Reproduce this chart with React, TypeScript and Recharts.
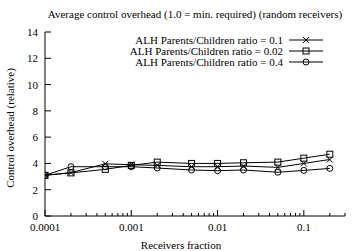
import { Line, LineChart, XAxis, YAxis } from "recharts";

const receiversFraction = [0.0001, 0.0002, 0.0005, 0.001, 0.002, 0.005, 0.01, 0.02, 0.05, 0.1, 0.2];
const ratio01 = [3.1, 3.3, 3.97, 3.9, 3.85, 3.75, 3.75, 3.8, 3.7, 4.0, 4.3];
const ratio002 = [3.1, 3.28, 3.55, 3.85, 4.1, 4.0, 4.0, 4.05, 4.1, 4.4, 4.7];
const ratio04 = [3.1, 3.75, 3.75, 3.75, 3.65, 3.5, 3.45, 3.5, 3.33, 3.47, 3.62];

const majorXTicks = [0.0001, 0.001, 0.01, 0.1];
const minorXTicks = [
  0.0002, 0.0003, 0.0004, 0.0005, 0.0006, 0.0007, 0.0008, 0.0009,
  0.002, 0.003, 0.004, 0.005, 0.006, 0.007, 0.008, 0.009,
  0.02, 0.03, 0.04, 0.05, 0.06, 0.07, 0.08, 0.09,
  0.2, 0.3,
];
const yTicks = [0, 2, 4, 6, 8, 10, 12, 14];

const series = [
  { key: "r01", name: "ALH Parents/Children ratio = 0.1", marker: "cross", values: ratio01 },
  { key: "r002", name: "ALH Parents/Children ratio = 0.02", marker: "square", values: ratio002 },
  { key: "r04", name: "ALH Parents/Children ratio = 0.4", marker: "circle", values: ratio04 },
];

const data = receiversFraction.map((x, i) => ({
  x,
  r01: ratio01[i],
  r002: ratio002[i],
  r04: ratio04[i],
}));

const txt = { fontFamily: "'Liberation Serif', 'Times New Roman', Times, serif", fontSize: 11, fill: "#000" };
const allXTicks = [...majorXTicks, ...minorXTicks];

function Marker({ cx, cy, type }: { cx: number; cy: number; type: string }) {
  const s = 3;
  if (type === "cross") {
    return (
      <g stroke="#000" strokeWidth={1}>
        <line x1={cx - s} y1={cy - s} x2={cx + s} y2={cy + s} />
        <line x1={cx - s} y1={cy + s} x2={cx + s} y2={cy - s} />
      </g>
    );
  }
  if (type === "square") {
    return <rect x={cx - s} y={cy - s} width={s * 2} height={s * 2} fill="none" stroke="#000" />;
  }
  return <circle cx={cx} cy={cy} r={s} fill="none" stroke="#000" />;
}

const bottomTick = (p: any) => {
  const major = majorXTicks.includes(p.payload.value);
  return (
    <g>
      <line x1={p.x} x2={p.x} y1={p.y} y2={p.y - (major ? 6 : 3)} stroke="#000" />
      {major && (
        <text x={p.x} y={p.y + 15} textAnchor="middle" style={txt}>
          {String(p.payload.value)}
        </text>
      )}
    </g>
  );
};

const topTick = (p: any) => {
  const major = majorXTicks.includes(p.payload.value);
  return <line x1={p.x} x2={p.x} y1={p.y} y2={p.y + (major ? 6 : 3)} stroke="#000" />;
};

const leftTick = (p: any) => (
  <g>
    <line x1={p.x} x2={p.x + 6} y1={p.y} y2={p.y} stroke="#000" />
    <text x={p.x - 7} y={p.y + 4} textAnchor="end" style={txt}>
      {p.payload.value}
    </text>
  </g>
);

const rightTick = (p: any) => <line x1={p.x} x2={p.x - 6} y1={p.y} y2={p.y} stroke="#000" />;

export default function App() {
  return (
    <div style={{ position: "relative", width: 352, height: 251, background: "#fff" }}>
      <style>{`body{margin:0}`}</style>
      <LineChart width={352} height={251} data={data} margin={{ top: 32, right: 7, bottom: 0, left: 0 }}>
        <XAxis
          dataKey="x"
          type="number"
          scale="log"
          domain={[0.0001, 0.3]}
          allowDataOverflow
          ticks={allXTicks}
          interval={0}
          height={35}
          tickSize={0}
          tickMargin={0}
          tickLine={false}
          tick={bottomTick}
          axisLine={{ stroke: "#000" }}
        />
        <XAxis
          xAxisId="top"
          orientation="top"
          type="number"
          scale="log"
          domain={[0.0001, 0.3]}
          allowDataOverflow
          ticks={allXTicks}
          interval={0}
          height={0}
          tickSize={0}
          tickMargin={0}
          tickLine={false}
          tick={topTick}
          axisLine={{ stroke: "#000" }}
        />
        <YAxis
          type="number"
          domain={[0, 14]}
          allowDataOverflow
          ticks={yTicks}
          interval={0}
          width={45}
          tickSize={0}
          tickMargin={0}
          tickLine={false}
          tick={leftTick}
          axisLine={{ stroke: "#000" }}
        />
        <YAxis
          yAxisId="right"
          orientation="right"
          type="number"
          domain={[0, 14]}
          allowDataOverflow
          ticks={yTicks}
          interval={0}
          width={0}
          tickSize={0}
          tickMargin={0}
          tickLine={false}
          tick={rightTick}
          axisLine={{ stroke: "#000" }}
        />
        {series.map((s) => (
          <Line
            key={s.key}
            dataKey={s.key}
            name={s.name}
            stroke="#000"
            strokeWidth={1}
            isAnimationActive={false}
            dot={(p: any) => <Marker key={`${s.key}-${p.index}`} cx={p.cx} cy={p.cy} type={s.marker} />}
            activeDot={false}
          />
        ))}
      </LineChart>
      <svg width={352} height={251} style={{ position: "absolute", left: 0, top: 0, pointerEvents: "none" }}>
        <text x={195} y={18} textAnchor="middle" style={txt}>
          Average control overhead (1.0 = min. required) (random receivers)
        </text>
        <text x={14} y={128} textAnchor="middle" transform="rotate(-90 14 128)" style={txt}>
          Control overhead (relative)
        </text>
        <text x={181} y={249} textAnchor="middle" style={txt}>
          Receivers fraction
        </text>
        {series.map((s, i) => {
          const y = 40 + i * 11;
          return (
            <g key={s.key}>
              <text x={283} y={y + 4} textAnchor="end" style={txt}>
                {s.name}
              </text>
              <line x1={289} x2={323} y1={y} y2={y} stroke="#000" />
              <Marker cx={306} cy={y} type={s.marker} />
            </g>
          );
        })}
      </svg>
    </div>
  );
}
